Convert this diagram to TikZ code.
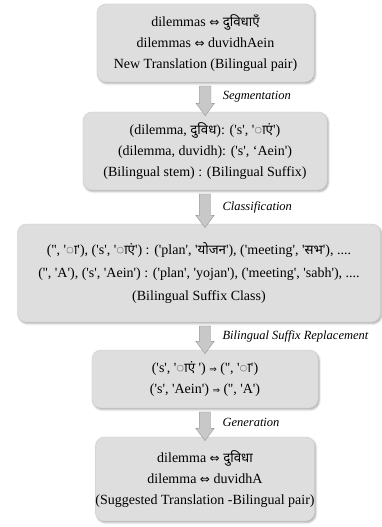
\documentclass[tikz,border=0pt]{standalone}
\usepackage{fontspec}
\setmainfont{Liberation Serif}[Ligatures=TeXOff]
\newfontfamily\devfont[Script=Devanagari,Scale=0.95]{Noto Sans}
\newfontfamily\symfont{DejaVu Sans}
\usetikzlibrary{shapes.arrows,shadows.blur,calc}
\definecolor{boxfill}{RGB}{222,222,222}
\definecolor{boxline}{RGB}{205,205,205}
\definecolor{arrowfill}{RGB}{200,200,200}
\definecolor{arrowline}{RGB}{150,150,150}
\newcommand{\dev}[1]{{\devfont #1}}
\newcommand{\pairsign}{{\symfont\fontsize{12}{12}\selectfont ⇔}}
\newcommand{\mapsign}{{\symfont\fontsize{9}{9}\selectfont ⇒}}

\tikzset{
  stagebox/.style={rounded corners=9pt, fill=boxfill, draw=boxline, align=center, inner sep=0pt,
                   font=\fontsize{14}{21}\selectfont,
                   blur shadow={shadow xshift=1.2pt, shadow yshift=-1.5pt, shadow blur radius=2pt, shadow opacity=35}},
  arrowbody/.style={single arrow, draw=arrowline, fill=arrowfill, shape border rotate=270,
                    inner xsep=5.5pt, inner ysep=0pt, single arrow head extend=3.5pt,
                    single arrow head indent=0pt, single arrow tip angle=74},
  flowarrow/.style={to path={let \p1=(\tikztostart), \p2=(\tikztotarget), \n1={veclen(\x2-\x1,\y2-\y1)} in
                    (\tikztostart) -- (\tikztotarget) node[arrowbody, minimum height=\n1, midway] {} \tikztonodes}},
  steplabel/.style={midway, anchor=west, xshift=14pt, font=\fontsize{12.5}{14}\selectfont\itshape}
}

\begin{document}
\begin{tikzpicture}[x=1pt, y=-1pt]
  \useasboundingbox (0,0) rectangle (382,527);

  % stages
  \node[stagebox, minimum width=217pt, minimum height=78pt] (newpair) at (205.5,43)
    {dilemmas \pairsign{} \dev{दुविधाएँ}\\ dilemmas \pairsign{} duvidhAein\\ New Translation (Bilingual pair)};
  \node[stagebox, minimum width=244pt, minimum height=78pt] (stem) at (205,151)
    {(dilemma, \dev{दुविध}): ('s', '\dev{◌ाएं}')\\ (dilemma, duvidh): ('s', ‘Aein')\\ (Bilingual stem) : (Bilingual Suffix)};
  \node[stagebox, minimum width=363pt, minimum height=98pt, font=\fontsize{14}{23}\selectfont] (class) at (199,273)
    {('', '\dev{◌ा}'), ('s', '\dev{◌ाएं}') : ('plan', '\dev{योजन}'), ('meeting', '\dev{सभ}'), ....\\
     ('', 'A'), ('s', 'Aein') : ('plan', 'yojan'), ('meeting', 'sabh'), ....\\
     (Bilingual Suffix Class)};
  \node[stagebox, minimum width=226pt, minimum height=58pt] (replace) at (205,379)
    {('s', '\dev{◌ाएं} ') \mapsign{} ('', '\dev{◌ा}')\\ ('s', 'Aein') \mapsign{} ('', 'A')};
  \node[stagebox, minimum width=216pt, minimum height=84pt] (suggest) at (205,479)
    {dilemma \pairsign{} \dev{दुविधा}\\ dilemma \pairsign{} duvidhA\\ (Suggested Translation -Bilingual pair)};

  % steps
  \path (newpair.south) to[flowarrow] node[steplabel] {Segmentation} (stem.north);
  \path (stem.south) to[flowarrow] node[steplabel] {Classification} (stem.south |- class.north);
  \path (replace.north |- class.south) to[flowarrow] node[steplabel] {Bilingual Suffix Replacement} (replace.north);
  \path (replace.south) to[flowarrow] node[steplabel] {Generation} (suggest.north);
\end{tikzpicture}
\end{document}
